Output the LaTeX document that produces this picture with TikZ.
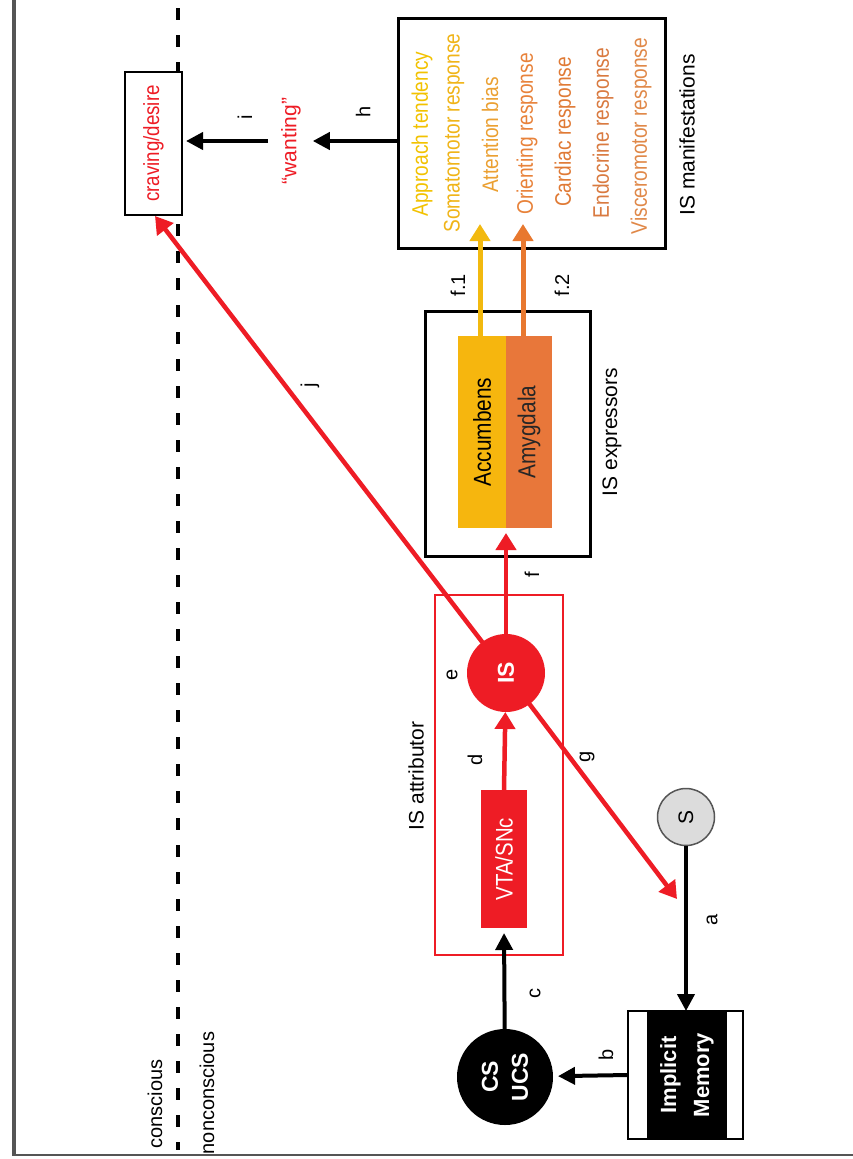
\documentclass[tikz,border=0pt]{standalone}
\usepackage{fontspec}
\setmainfont{Liberation Sans}
\newfontfamily\narrowf[FakeStretch=0.85]{Liberation Sans}
\usetikzlibrary{arrows.meta}
\definecolor{ired}{HTML}{EE1C25}
\definecolor{accY}{HTML}{F6B60E}
\definecolor{amyO}{HTML}{E8773A}
\definecolor{yArr}{HTML}{F2B90F}
\definecolor{oArr}{HTML}{E8782F}
\definecolor{frameg}{HTML}{555555}
\definecolor{sgray}{HTML}{DCDCDC}
\definecolor{mA}{HTML}{F2C200}
\definecolor{mB}{HTML}{F0B418}
\definecolor{mC}{HTML}{EBA032}
\definecolor{mD}{HTML}{E8823A}
\definecolor{mE}{HTML}{E07A35}
\definecolor{mF}{HTML}{D97A40}
\definecolor{mG}{HTML}{E08848}
\begin{document}
\begin{tikzpicture}[x=1pt,y=-1pt,
  every node/.style={inner sep=0pt, outer sep=0pt},
  lbl/.style={rotate=90, font=\fontsize{20}{24}\selectfont},
  mtxt/.style={rotate=90, font=\narrowf\fontsize{22.5}{26}\selectfont},
  boxk/.style={draw=black, fill=white, line width=3pt},
  blk/.style={draw=black, line width=4pt, -{Triangle[length=17pt,width=17pt]}},
  redarr/.style={draw=ired, line width=4.5pt, -{Triangle[length=17pt,width=20pt]}},
  yelarr/.style={draw=yArr, line width=5pt, -{Triangle[length=17pt,width=20pt]}},
  orarr/.style={draw=oArr, line width=5pt, -{Triangle[length=17pt,width=20pt]}},
]
\useasboundingbox (0,0) rectangle (852,1159);
\fill[white] (0,0) rectangle (852,1159);
\draw[frameg, line width=4pt] (14,-2) -- (14,1155);
\draw[frameg, line width=2pt] (12,1155) -- (854,1155);
\draw[line width=4pt, dash pattern=on 12pt off 15pt] (178,8) -- (178,1150);

\node[lbl] (consc) at (155,1104) {conscious};
\node[lbl] (nonconsc) at (207,1093) {nonconscious};

% craving / wanting
\node[boxk, line width=2pt, rotate=90, minimum width=143pt, minimum height=57pt, text=ired, font=\narrowf\fontsize{22}{24}\selectfont] (crav) at (153.5,143.5) {craving/desire};
\node[lbl, text=ired, font=\fontsize{21}{24}\selectfont] (want) at (291,141) {“wanting”};

% IS manifestations
\node[boxk, minimum width=267pt, minimum height=230pt] (man) at (531.5,133) {};
\node[mtxt, text=mA] (m1) at (422,134) {Approach tendency};
\node[mtxt, text=mB] (m2) at (454,133) {Somatomotor response};
\node[mtxt, text=mC] (m3) at (490,135) {Attention bias};
\node[mtxt, text=mD] (m4) at (527,134) {Orienting response};
\node[mtxt, text=mE] (m5) at (565,132) {Cardiac response};
\node[mtxt, text=mF] (m6) at (603,133) {Endocrine response};
\node[mtxt, text=mG] (m7) at (641,136) {Visceromotor response};
\node[lbl, font=\fontsize{21}{24}\selectfont] (manl) at (687,135) {IS manifestations};

% IS expressors
\node[boxk, minimum width=165pt, minimum height=245pt] (exp) at (507.5,433.5) {};
\node[rotate=90, fill=accY, minimum width=192pt, minimum height=48pt, font=\narrowf\fontsize{24.5}{26}\selectfont] (acc) at (482,432) {Accumbens};
\node[rotate=90, fill=amyO, text=black!85, minimum width=192pt, minimum height=46pt, font=\narrowf\fontsize{24.5}{26}\selectfont] (amy) at (529,432) {Amygdala};
\node[lbl, font=\fontsize{21}{24}\selectfont] (expl) at (612,432) {IS expressors};

% IS attributor
\node[draw=ired, line width=1.8pt, minimum width=128pt, minimum height=360pt] (att) at (499,775) {};
\node[lbl, font=\fontsize{21}{24}\selectfont] (attl) at (416,776) {IS attributor};
\node[rotate=90, fill=ired, text=white, minimum width=138pt, minimum height=46pt, font=\narrowf\fontsize{24}{26}\selectfont] (vta) at (504,859) {VTA/SNc};

% S, CS/UCS, Implicit memory
\node[circle, draw=frameg, line width=1.5pt, fill=sgray, minimum size=57pt, rotate=90, font=\fontsize{21}{24}\selectfont] (S) at (686,817) {S};
\node[circle, fill=black, text=white, minimum size=96pt, rotate=90, align=center, font=\fontsize{23}{30}\selectfont\bfseries] (cs) at (505,1077) {CS\\UCS};
\node[draw=black, line width=2pt, fill=white, minimum width=115pt, minimum height=128pt] (impo) at (685,1075) {};
\node[rotate=90, fill=black, text=white, minimum width=128pt, minimum height=80pt, align=center, font=\fontsize{22}{33}\selectfont\bfseries] (imp) at (687,1075) {Implicit\\Memory};

\coordinate (isc) at (506,673);
\coordinate (jtip) at (155,216);
\coordinate (gtip) at (677,899);

% diagonal through the IS circle (drawn beneath it)
\draw[redarr] (isc) -- (jtip);
\draw[redarr] (isc) -- (gtip);

\node[circle, fill=ired, minimum size=78pt, text=white, rotate=90, font=\fontsize{23}{24}\selectfont\bfseries] (IS) at (isc) {IS};

% connectors
\draw[blk, shorten <=13pt, shorten >=4pt] (want.north) -- (want.north -| crav.south);
\draw[blk, shorten >=12pt] (man.west |- want.center) -- (want.south);
\draw[yelarr] ([xshift=-2pt]acc.east) -- ++(0,-112);
\draw[orarr] ([xshift=-6pt]amy.east) -- ++(0,-112);
\draw[redarr, shorten >=5pt] (IS) -- (acc.south west);
\draw[redarr] (vta.east) -- (IS);
\draw[blk, shorten >=5pt] (cs) -- (vta.west);
\draw[blk, shorten >=5pt] (impo.west) -- (cs);
\draw[blk] (S) -- (S |- impo.north);

% letter labels
\node[lbl] (la) at (712,920) {a};
\node[lbl] (lb) at (606,1055) {b};
\node[lbl] (lc) at (535,993) {c};
\node[lbl] (ld) at (475,760) {d};
\node[lbl] (le) at (452,675) {e};
\node[lbl] (lf) at (532,575) {f};
\node[lbl] (lg) at (587,757) {g};
\node[lbl] (lh) at (363,112) {h};
\node[lbl] (li) at (245,117) {i};
\node[lbl] (lj) at (310,385) {j};
\node[lbl] (lf1) at (458,285) {f.1};
\node[lbl] (lf2) at (562,285) {f.2};
\end{tikzpicture}
\end{document}
